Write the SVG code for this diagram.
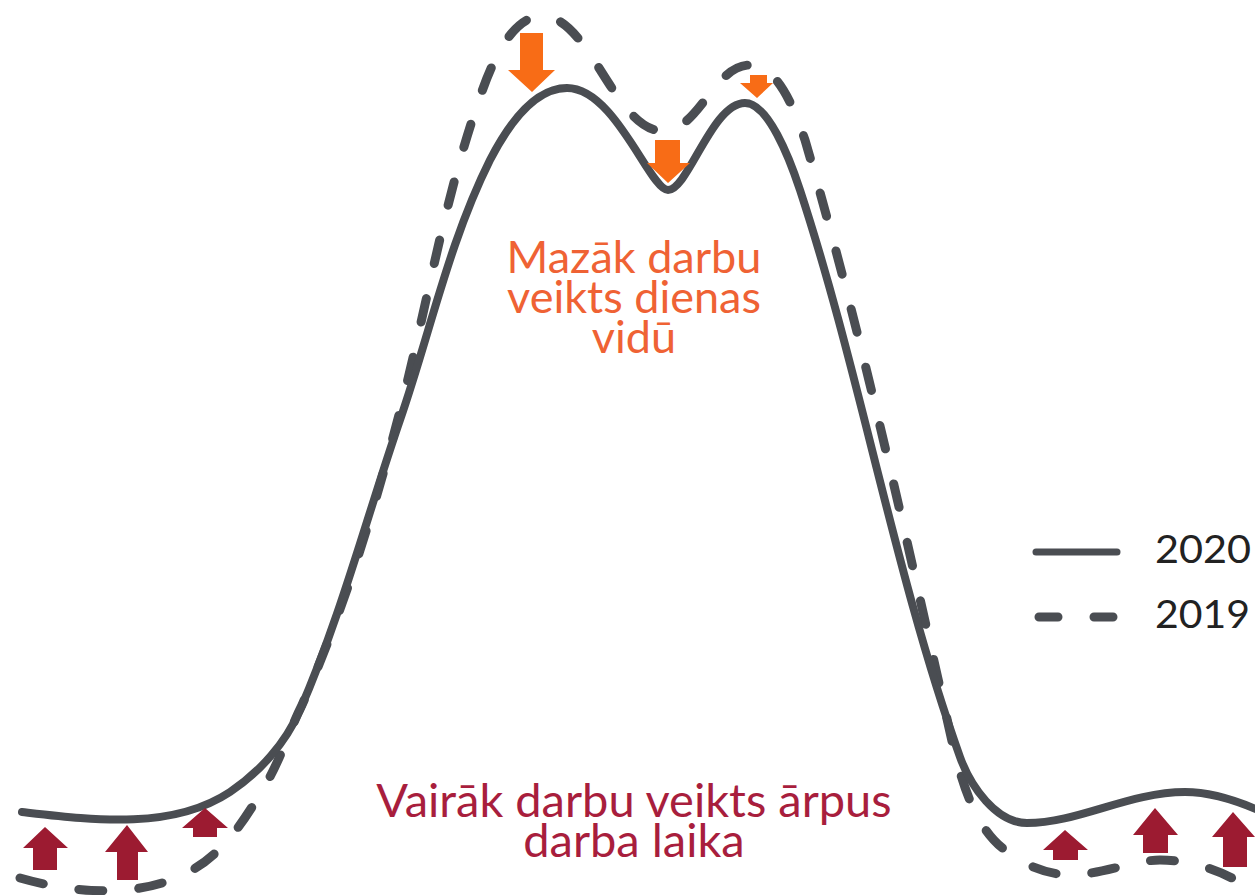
<svg xmlns="http://www.w3.org/2000/svg" width="1255" height="895" viewBox="0 0 1255 895">
<style>
.curve{fill:none;stroke:#4a4d52;stroke-linecap:round;stroke-linejoin:round}
.y2020{stroke-width:8}
.y2019{stroke-width:9;stroke-dasharray:24 36}
.down{fill:#f86c16}
.up{fill:#9c1b31}
.t{font-family:Lato,"Open Sans",sans-serif;text-anchor:middle}
.torange{fill:#ef6234;font-size:45px}
.tred{fill:#a81e3d;font-size:47px}
.leg{font-family:Lato,"Open Sans",sans-serif;font-size:38px;fill:#222222}
</style>
<rect width="1255" height="895" fill="#ffffff"/>
<g id="curve-2019">
<path class="curve y2019" d="M 20 878 C 76 894, 144 899, 194 869 C 226.7 849.6, 248 815, 267 782 C 281 758, 289 731, 302 705 C 341 616, 370 524, 395 430 C 425 319, 442 205, 480 97 C 491 65, 511 16, 542 16 C 590 16, 615 131, 663 131 C 699 131, 714 65, 750 65 C 778 65, 795 111, 805 140 C 860 328, 902 519, 945 710 C 956 759, 968 823, 1005 850 C 1022 865, 1050 875, 1070 875 C 1100 875, 1135 860, 1160 860 C 1190 860, 1225 870, 1260 895"/>
</g>
<g id="curve-2020">
<path class="curve y2020" d="M 22 812 C 92 820, 172 830.5, 230 792 C 260 772, 285.6 743, 300 710 C 341 616, 367 516, 400 420 C 430 333, 449 242, 490 160 C 506 129, 532 88, 567 88 C 615 88, 650 190, 668 190 C 688 190, 712 103, 745 103 C 768 103, 789.5 158, 800 190 C 861 376, 894 572, 960 757 C 970.4 786, 996 823, 1027 823 C 1078 823, 1129 792, 1185 792 C 1210 792, 1235 800, 1258 810"/>
</g>
<g id="arrows-down">
<polygon class="down" points="520,33 543,33 543,70 555,70 532,92 508,70 520,70"/>
<polygon class="down" points="655,140 680,140 680,163 690,163 668,183 647,163 655,163"/>
<polygon class="down" points="750,75 767,75 767,83 773,83 757,98 740,83 750,83"/>
</g>
<g id="arrows-up">
<polygon class="up" points="45,827 68,848 57,848 57,870 33,870 33,848 23,848"/>
<polygon class="up" points="127,825 148,852 138,852 138,880 117,880 117,852 105,852"/>
<polygon class="up" points="205,808 228,828 217,828 217,837 193,837 193,828 182,828"/>
<polygon class="up" points="1065,830 1088,850 1078,850 1078,860 1053,860 1053,850 1043,850"/>
<polygon class="up" points="1155,808 1178,835 1168,835 1168,853 1143,853 1143,835 1133,835"/>
<polygon class="up" points="1233,812 1255,837 1247,837 1247,867 1223,867 1223,837 1212,837"/>
</g>
<g id="label-less">
<text class="t torange" x="634" y="273">Mazāk darbu</text>
<text class="t torange" x="634" y="313">veikts dienas</text>
<text class="t torange" x="634" y="353">vidū</text>
</g>
<g id="label-more">
<text class="t tred" x="634" y="817">Vairāk darbu veikts ārpus</text>
<text class="t tred" x="634" y="857">darba laika</text>
</g>
<g id="legend">
<line class="curve" x1="1036" y1="552" x2="1117" y2="552" stroke-width="7" stroke-linecap="butt"/>
<line class="curve" x1="1039" y1="617" x2="1114" y2="617" stroke-width="9" stroke-dasharray="19 36"/>
<text class="leg" x="1155" y="563" textLength="96" lengthAdjust="spacingAndGlyphs">2020</text>
<text class="leg" x="1155" y="628" textLength="95" lengthAdjust="spacingAndGlyphs">2019</text>
</g>
</svg>
